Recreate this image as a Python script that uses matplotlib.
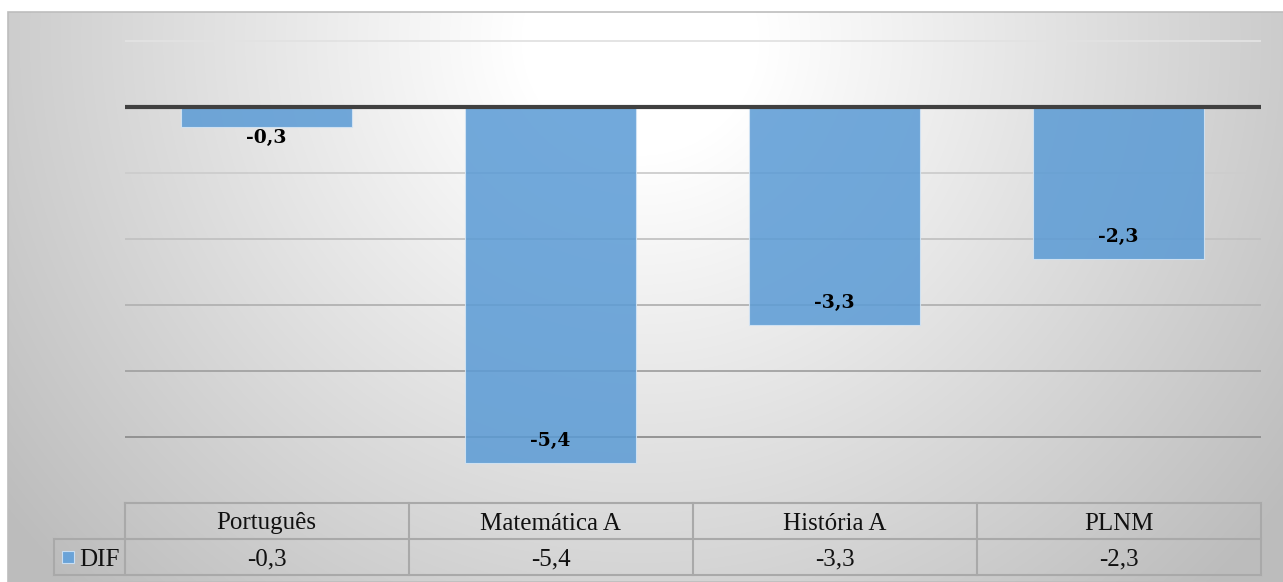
import numpy as np
import matplotlib
matplotlib.use("Agg")
import matplotlib.pyplot as plt
from matplotlib.patches import Rectangle

categories = ["Português", "Matemática A", "História A", "PLNM"]
dif_values = [-0.3, -5.4, -3.3, -2.3]
series_name = "DIF"
grid_levels = [1, -1, -2, -3, -4, -5]

W, H = 1283, 582
DPI = 100
fig = plt.figure(figsize=(W / DPI, H / DPI), dpi=DPI)
fig.patch.set_facecolor("white")

def fx(px):
    return px / W

def fy(py):
    return 1 - py / H

# background gradient area (chart area)
bx0, by0, bx1, by1 = 8, 12, W, H
bg_ax = fig.add_axes([fx(bx0), fy(by1), fx(bx1 - bx0), (by1 - by0) / H], zorder=0)
yy, xx = np.mgrid[by0:by1, bx0:bx1]
d = np.sqrt(((xx - 640) / 660.0) ** 2 + ((yy - 40) / 640.0) ** 2)
t = np.clip((d - 0.18) / 0.9, 0, 1.15)
g = (255 - 58 * t) / 255.0
img = np.dstack([g, g, g])
bg_ax.imshow(img, aspect="auto", extent=[0, 1, 0, 1], origin="upper")
bg_ax.set_axis_off()
fig.patches.append(Rectangle((fx(bx0), fy(by1)), fx(bx1 - bx0) + 0.01, (by1 - by0) / H,
                             transform=fig.transFigure, fill=False,
                             edgecolor="#bdbdbd", linewidth=1.2, zorder=1))

# main plot axes
left_px, right_px = 124.5, 1260.5
zero_px, unit_px = 107, 66.0
ymin, ymax = -6.0, 1.05
top_px = zero_px - ymax * unit_px
bot_px = zero_px - ymin * unit_px
ax = fig.add_axes([fx(left_px), fy(bot_px), fx(right_px - left_px), (bot_px - top_px) / H], zorder=2)
ax.patch.set_alpha(0)
ax.set_xlim(-0.5, len(categories) - 0.5)
ax.set_ylim(ymin, ymax)
for s in ax.spines.values():
    s.set_visible(False)
ax.set_xticks([])
ax.set_yticks([])

grid_colors = {1: "#e2e2e2", -1: "#cdcdcd", -2: "#c2c2c2", -3: "#b2b2b2", -4: "#a2a2a2", -5: "#8e8e8e"}
for lv in grid_levels:
    ax.axhline(lv, color=grid_colors[lv], linewidth=1.3, zorder=1)

x = np.arange(len(categories))
ax.bar(x, dif_values, width=0.6, color="#5b9bd5", alpha=0.86,
       edgecolor="#d6e6f5", linewidth=0.8, zorder=2)
ax.axhline(0, color="#404040", linewidth=3, zorder=4)

def fmt(v):
    return f"{v:.1f}".replace(".", ",")

for xi, v in zip(x, dif_values):
    bar_px = abs(v) * unit_px
    if bar_px < 40:
        off = -11
    else:
        off = 22
    ax.annotate(fmt(v), xy=(xi, v), xytext=(0, off * 72 / DPI), textcoords="offset points",
                ha="center", va="center", fontsize=13.5, fontweight="bold",
                family="DejaVu Serif", color="black", zorder=5)

# data table
leg_px = 54
tab_top, tab_mid, tab_bot = 503, 538.5, 575
cat_w = (right_px - left_px) / len(categories)
leg_units = (left_px - leg_px) / cat_w
tx = fig.add_axes([fx(leg_px), fy(tab_bot), fx(right_px - leg_px), (tab_bot - tab_top) / H], zorder=3)
tx.patch.set_alpha(0)
tx.set_xlim(-0.5 - leg_units, len(categories) - 0.5)
tx.set_ylim(0, 2)
tx.set_axis_off()
lc = "#a9a9a9"
lw = 1.5
xl = -0.5 - leg_units
tx.plot([-0.5, len(categories) - 0.5], [2, 2], color=lc, lw=lw, clip_on=False)
tx.plot([xl, len(categories) - 0.5], [1, 1], color=lc, lw=lw, clip_on=False)
tx.plot([xl, len(categories) - 0.5], [0, 0], color=lc, lw=lw, clip_on=False)
for b in np.arange(len(categories) + 1) - 0.5:
    tx.plot([b, b], [0, 2], color=lc, lw=lw, clip_on=False)
tx.plot([xl, xl], [0, 1], color=lc, lw=lw, clip_on=False)

tfs = 18
for xi, c, v in zip(x, categories, dif_values):
    tx.text(xi, 1.5, c, ha="center", va="center_baseline", fontsize=tfs, family="Liberation Serif", color="#111111")
    tx.text(xi, 0.5, fmt(v), ha="center", va="center_baseline", fontsize=tfs, family="Liberation Serif", color="#111111")

row_px = (tab_bot - tab_top) / 2.0
sq_px = 12
tx.add_patch(Rectangle((xl + 8 / cat_w, 0.5 - (sq_px / 2) / row_px), sq_px / cat_w, sq_px / row_px,
                       facecolor="#6aa3d8", edgecolor="#c9def2", lw=0.8, zorder=4))
tx.text(xl + 25 / cat_w, 0.5, series_name, ha="left", va="center_baseline", fontsize=tfs,
        family="Liberation Serif", color="#111111")

fig.savefig("out.png", dpi=DPI, facecolor=fig.get_facecolor())
